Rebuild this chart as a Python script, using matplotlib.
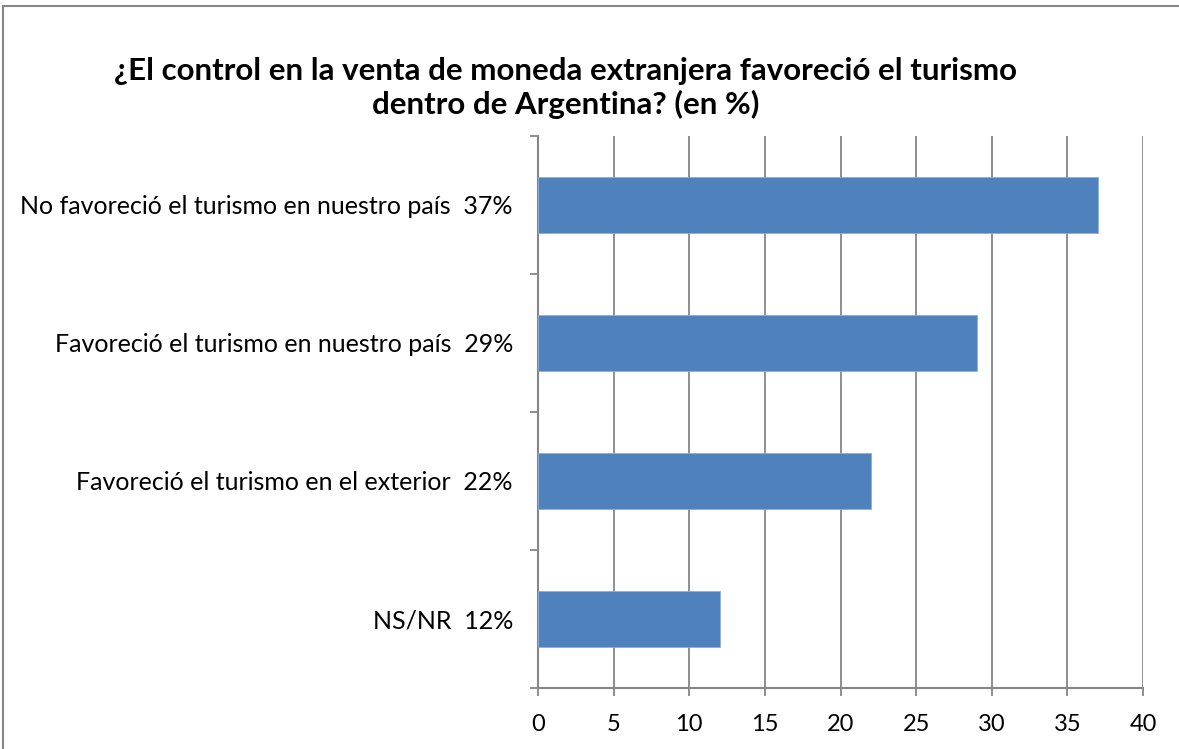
import matplotlib.pyplot as plt
from matplotlib.lines import Line2D
from matplotlib.ticker import FixedLocator, NullFormatter

plt.rcParams['font.family'] = ['Lato', 'DejaVu Sans']

# datos
categorias = ['No favoreció el turismo en nuestro país', 'Favoreció el turismo en nuestro país',
              'Favoreció el turismo en el exterior', 'NS/NR']
valores = [37, 29, 22, 12]
etiquetas = [c + '  ' + str(v) + '%' for c, v in zip(categorias, valores)]
ticks_x = [0, 5, 10, 15, 20, 25, 30, 35, 40]

gris = '#868686'
fig = plt.figure(figsize=(11.79, 7.49), dpi=100)
# marco del grafico (cortado a la derecha y abajo)
x0 = 2.5 / 1179
y0 = 1 - 5.5 / 749
fig.lines.append(Line2D([x0, x0], [0, y0], transform=fig.transFigure, color=gris, linewidth=1.5))
fig.lines.append(Line2D([x0, 1], [y0, y0], transform=fig.transFigure, color=gris, linewidth=1.5))

ax = fig.add_axes([538 / 1179, 1 - 688 / 749, 605 / 1179, 552 / 749])
pos = list(range(len(valores)))[::-1]
ax.barh(pos, valores, height=0.4, color='#4F81BD', edgecolor='#8FAFD8', linewidth=0.6, zorder=3)
ax.set_xlim(0, 40)
ax.set_ylim(-0.5, 3.5)
ax.set_xticks(ticks_x)
ax.set_xticklabels([str(t) for t in ticks_x], fontsize=17)
ax.yaxis.set_major_locator(FixedLocator([-0.5, 0.5, 1.5, 2.5, 3.5]))
ax.yaxis.set_major_formatter(NullFormatter())
ax.yaxis.set_minor_locator(FixedLocator(pos))
ax.set_yticklabels(etiquetas, minor=True, fontsize=18)
ax.tick_params(axis='y', which='minor', length=0, pad=18)
ax.tick_params(axis='y', which='major', length=6, width=1.3, color=gris, direction='out')
ax.tick_params(axis='x', length=6, width=1.3, color=gris, direction='out', pad=13)
ax.grid(axis='x', color=gris, linewidth=1.3, zorder=0)
ax.set_axisbelow(True)
for s in ['top', 'right']:
    ax.spines[s].set_visible(False)
for s in ['left', 'bottom']:
    ax.spines[s].set_color(gris)
    ax.spines[s].set_linewidth(1.5)

fig.text(566 / 1179, 1 - 88 / 749,
         '¿El control en la venta de moneda extranjera favoreció el turismo\ndentro de Argentina? (en %)',
         ha='center', va='center', fontsize=22.5, fontweight='bold', linespacing=1.2)

fig.savefig('out.png', dpi=100)
